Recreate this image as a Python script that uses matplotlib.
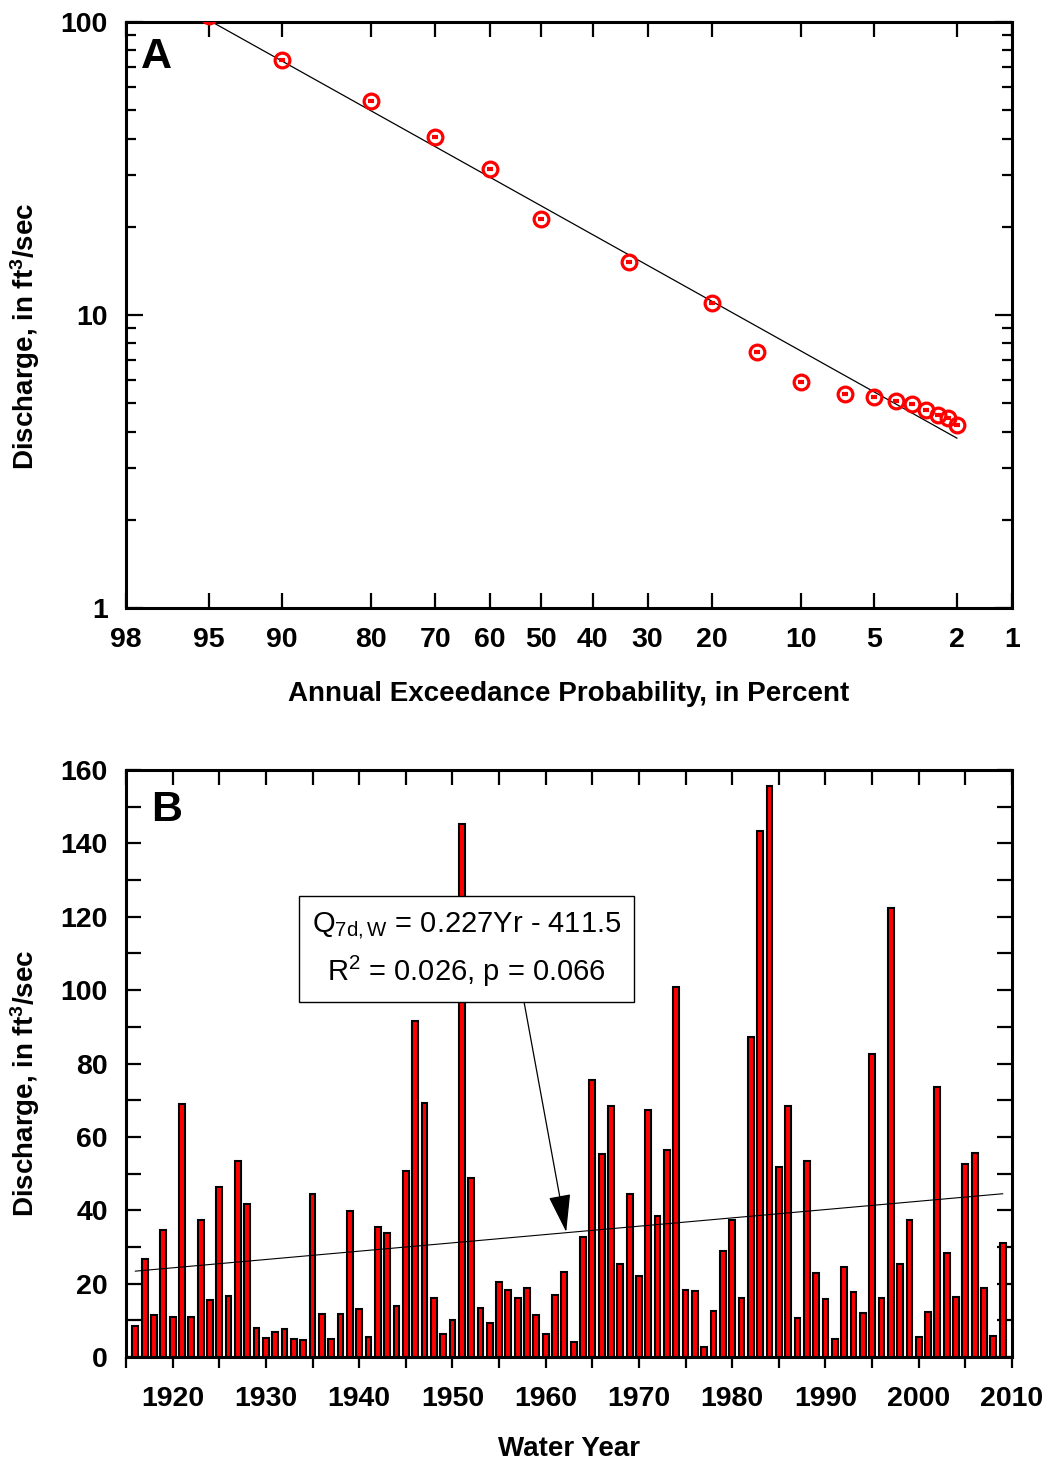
import numpy as np
import matplotlib
matplotlib.use("Agg")
import matplotlib.pyplot as plt
from matplotlib.ticker import FixedLocator, NullLocator, MultipleLocator, LogLocator, NullFormatter
from statistics import NormalDist

plt.rcParams['font.family'] = ['Liberation Sans', 'DejaVu Sans']
plt.rcParams['mathtext.fontset'] = 'custom'
plt.rcParams['mathtext.rm'] = 'Liberation Sans'
plt.rcParams['mathtext.it'] = 'Liberation Sans:italic'
plt.rcParams['mathtext.bf'] = 'Liberation Sans:bold'

# ---- panel A: frequency curve ----
aep_pct = [95, 90, 80, 70, 60, 50, 33.3, 20, 14.3, 10, 6.67, 5, 4, 3.33, 2.86, 2.5, 2.22, 2]
aep_q = [105, 74.2, 53.6, 40.6, 31.4, 21.3, 15.2, 10.97, 7.49, 5.92, 5.38, 5.24, 5.08, 4.95,
         4.74, 4.56, 4.44, 4.21]
fit_pct = [95, 2]
fit_q = [101.5, 3.80]
prob_ticks = [98, 95, 90, 80, 70, 60, 50, 40, 30, 20, 10, 5, 2, 1]

# ---- panel B: annual series ----
years = list(range(1916, 2010))
q7 = [8.4, 26.6, 11.4, 34.5, 10.8, 68.9, 11.0, 37.3, 15.5, 46.3,
      16.7, 53.3, 41.6, 8.0, 5.1, 6.7, 7.5, 4.9, 4.6, 44.5,
      11.6, 5.0, 11.7, 39.7, 13.0, 5.4, 35.4, 33.8, 14.0, 50.8,
      91.7, 69.1, 16.1, 6.2, 10.0, 145.2, 48.7, 13.3, 9.3, 20.4,
      18.3, 16.1, 18.8, 11.4, 6.2, 16.8, 23.2, 4.1, 32.8, 75.4,
      55.2, 68.4, 25.3, 44.4, 22.1, 67.3, 38.5, 56.4, 100.8, 18.2,
      18.0, 2.6, 12.6, 28.8, 37.3, 16.2, 87.2, 143.4, 155.6, 51.7,
      68.4, 10.7, 53.5, 23.0, 15.9, 4.9, 24.5, 17.8, 11.9, 82.7,
      16.0, 122.4, 25.4, 37.3, 5.5, 12.2, 73.7, 28.4, 16.4, 52.5,
      55.6, 18.9, 5.7, 31.1]
trend_years = [1916, 2009]
trend_q = [23.4, 44.5]

_nd = NormalDist()
_ppf = np.vectorize(lambda p: _nd.inv_cdf(p), otypes=[float])
_cdf = np.vectorize(lambda z: _nd.cdf(z), otypes=[float])


def prob_fwd(p):
    p = np.clip(np.asarray(p, dtype=float), 1e-4, 100 - 1e-4)
    return _ppf(p / 100.0)


def prob_inv(z):
    return _cdf(np.asarray(z, dtype=float)) * 100.0


fig = plt.figure(figsize=(10.48, 14.65), dpi=100)
W, H = 1048, 1465
axA = fig.add_axes([126 / W, 1 - 608 / H, 886 / W, 586 / H])
axB = fig.add_axes([126 / W, 1 - 1357 / H, 886 / W, 587 / H])

tick_fs = 20.5
lab_fs = 20
ylab = 'Discharge, in ft$^{\\mathbf{3}}$/sec'

# panel A
axA.set_xscale('function', functions=(prob_fwd, prob_inv))
axA.set_yscale('log')
axA.plot(fit_pct, fit_q, color='black', lw=0.9, zorder=2)
axA.plot(aep_pct, aep_q, linestyle='none', marker='o', ms=10.6, mfc='none',
         mec='#ff0000', mew=2.3, zorder=3)
axA.plot(aep_pct, aep_q, linestyle='none', marker='_', ms=5, mec='#ff0000',
         mew=3, zorder=3)
axA.set_xlim(98, 1)
axA.set_ylim(1, 100)
axA.xaxis.set_major_locator(FixedLocator(prob_ticks))
axA.xaxis.set_minor_locator(NullLocator())
axA.set_xticklabels([str(t) for t in prob_ticks])
axA.yaxis.set_major_locator(FixedLocator([1, 10, 100]))
axA.set_yticklabels(['1', '10', '100'])
axA.yaxis.set_minor_locator(LogLocator(base=10, subs=np.arange(2, 10)))
axA.yaxis.set_minor_formatter(NullFormatter())
axA.tick_params(axis='x', which='major', direction='in', top=True, length=11,
                width=1.6, pad=14, labelsize=tick_fs)
axA.tick_params(axis='y', which='major', direction='in', right=True, length=12,
                width=1.6, pad=13, labelsize=tick_fs)
axA.tick_params(axis='y', which='minor', direction='in', right=True, length=7,
                width=1.6)
axA.set_xlabel('Annual Exceedance Probability, in Percent', fontsize=lab_fs,
               fontweight='bold', labelpad=20)
axA.set_ylabel(ylab, fontsize=lab_fs, fontweight='bold', va='center')
axA.yaxis.set_label_coords(-0.114, 0.464)
axA.text(0.017, 0.94, 'A', transform=axA.transAxes, fontsize=31, fontweight='bold',
         va='center', ha='left')

# panel B
axB.bar(years, q7, width=0.62, color='#ff0000', edgecolor='black', linewidth=1.5,
        zorder=2)
axB.plot(trend_years, trend_q, color='black', lw=0.8, zorder=3)
axB.set_xlim(1915, 2010)
axB.set_ylim(0, 160)
axB.xaxis.set_major_locator(MultipleLocator(10))
axB.xaxis.set_minor_locator(MultipleLocator(5))
axB.yaxis.set_major_locator(MultipleLocator(20))
axB.yaxis.set_minor_locator(MultipleLocator(10))
axB.tick_params(axis='x', which='both', direction='out', top=False, length=8,
                width=1.6, pad=13, labelsize=tick_fs)
axB.tick_params(axis='y', which='both', direction='in', right=True, length=11,
                width=1.6, pad=13, labelsize=tick_fs)
# inward ticks along the top edge
sec = axB.secondary_xaxis('top')
sec.xaxis.set_major_locator(MultipleLocator(5))
sec.tick_params(direction='in', length=11, width=1.6, labeltop=False)
sec.spines['top'].set_visible(False)
for tl in axB.get_xticklabels() + axB.get_yticklabels() + axA.get_xticklabels() + axA.get_yticklabels():
    tl.set_fontweight('bold')
axB.set_xlabel('Water Year', fontsize=lab_fs, fontweight='bold', labelpad=17)
axB.set_ylabel(ylab, fontsize=lab_fs, fontweight='bold', va='center')
axB.yaxis.set_label_coords(-0.114, 0.466)
axB.text(0.028, 0.932, 'B', transform=axB.transAxes, fontsize=31, fontweight='bold',
         va='center', ha='left')

axB.text(1951.5, 110.9,
         'Q$_{\\mathrm{7d,W}}$ = 0.227Yr - 411.5\nR$^{2}$ = 0.026, p = 0.066',
         ha='center', va='center', fontsize=21, fontweight='normal',
         multialignment='center', linespacing=1.45, zorder=5,
         bbox=dict(boxstyle='square,pad=0.45', fc='white', ec='black', lw=1.0))
axB.annotate('', xy=(1962.2, 34.1), xytext=(1957.7, 96.5),
             arrowprops=dict(arrowstyle='-|>,head_length=1.2,head_width=0.35',
                             color='black', lw=0.9, shrinkA=0, shrinkB=0,
                             mutation_scale=20), zorder=4)

for ax in (axA, axB):
    for sp in ax.spines.values():
        sp.set_linewidth(2.2)

fig.savefig('out.png', dpi=100)
